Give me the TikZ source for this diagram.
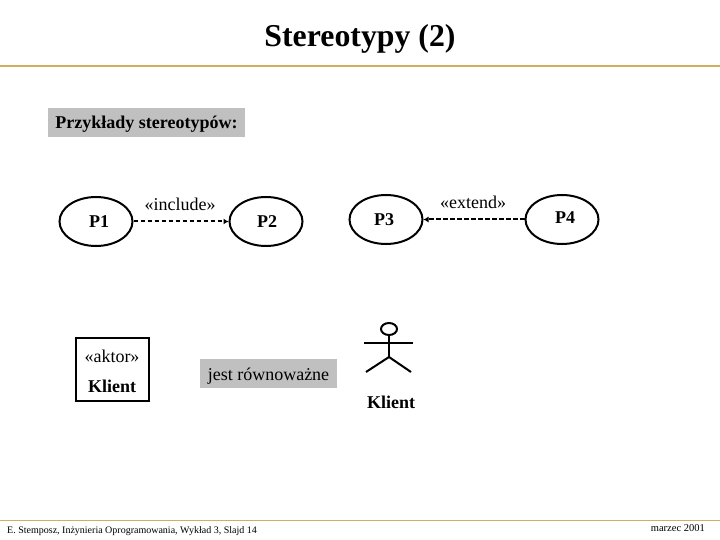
\documentclass[tikz,border=0pt]{standalone}
\usepackage{fontspec}
\setmainfont{Liberation Serif}
\usetikzlibrary{arrows.meta, shapes.geometric}

\definecolor{rulegold}{RGB}{208,176,96}
\definecolor{boxgray}{RGB}{192,192,192}

\tikzset{
  usecase/.style={draw, line width=2pt, ellipse, minimum width=73, minimum height=49, inner sep=0, font=\fontsize{18}{20}\selectfont\bfseries},
  depend/.style={line width=2pt, dash pattern=on 4.5pt off 2.5pt, -{Latex[length=5pt, width=6pt]}},
  graybox/.style={fill=boxgray, inner sep=0, minimum height=29},
  txt/.style={font=\fontsize{18}{20}\selectfont, inner sep=0},
  foot/.style={font=\fontsize{10}{12}\selectfont, inner sep=0}
}

\begin{document}
\begin{tikzpicture}[x=1pt, y=-1pt]
\useasboundingbox (0,0) rectangle (720,540);

\node[font=\fontsize{31.8}{34}\selectfont\bfseries, inner sep=0] (title) at (360,38.5) {Stereotypy (2)};
\coordinate (topl) at (0,66);
\coordinate (topr) at (720,66);
\draw[rulegold, line width=2.5pt] (topl) -- (topr);

\node[graybox, minimum width=197, txt, font=\fontsize{18}{20}\selectfont\bfseries, text height=12, text depth=0] (head) at (146.5,122.5) {Przykłady stereotypów:};

%use cases
\node[usecase] (p1) at (96,221.5) {\hspace{6pt}P1};
\node[usecase] (p2) at (266,221.5) {\hspace{2pt}P2};
\node[usecase] (p3) at (386,219.5) {P3\kern4pt};
\node[usecase] (p4) at (562,219.5) {\hspace{6pt}\raisebox{4pt}{P4}};

\draw[depend] (p1.east) -- (p2.west);
\draw[depend] (p4.west) -- (p3.east);
\node[txt] (incl) at (180,204) {«include»};
\node[txt] (ext) at (473,202) {«extend»};

%class box
\node[draw, line width=2pt, minimum width=73, minimum height=63, inner sep=0] (klasa) at (112.5,369.5) {};
\node[txt] (akt) at (112,356) {«aktor»};
\node[txt, font=\fontsize{18}{20}\selectfont\bfseries] (kl1) at (112,386) {Klient};

\node[graybox, minimum width=137, txt, text height=14, text depth=0] (rown) at (268.5,373.5) {jest równoważne};

%actor
\node[draw, line width=2pt, ellipse, minimum width=16, minimum height=12, inner sep=0] (head2) at (389,329) {};
\coordinate (hip) at (389,357);
\coordinate (arml) at (364,343);
\coordinate (armr) at (413,343);
\coordinate (legl) at (366,372);
\coordinate (legr) at (411,372);
\draw[line width=2pt] (head2.south) -- (hip);
\draw[line width=2pt] (arml) -- (armr);
\draw[line width=2pt] (legl) -- (hip) -- (legr);
\node[txt, font=\fontsize{18}{20}\selectfont\bfseries] (kl2) at (391,402) {Klient};

%footer
\coordinate (botl) at (0,520);
\coordinate (botr) at (720,520);
\draw[rulegold, line width=1pt] (botl) -- (botr);
\node[foot, anchor=west] (autor) at (7,531.5) {E. Stemposz, Inżynieria Oprogramowania, Wykład 3, Slajd 14};
\node[foot, font=\fontsize{10.5}{12}\selectfont, anchor=east] (data) at (705,528.5) {marzec 2001};

\end{tikzpicture}
\end{document}
